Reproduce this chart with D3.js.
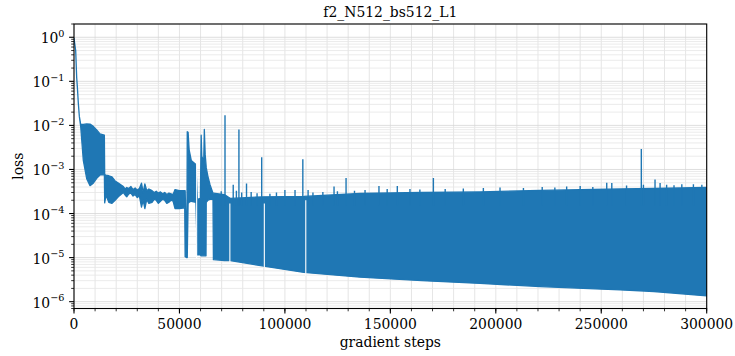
<!DOCTYPE html>
<html><head><meta charset="utf-8">
<script src="https://cdn.jsdelivr.net/npm/d3@7"></script>
<style>
body{margin:0;background:#fff;}
svg{display:block;}
text{font-family:"DejaVu Serif",serif;fill:#000;}
</style></head><body>
<svg id="c" width="735" height="356"></svg>
<script>
const title = "f2_N512_bs512_L1";
const xLabel = "gradient steps";
const yLabel = "loss";
const xTicks = [0, 50000, 100000, 150000, 200000, 250000, 300000];
const yTickExps = [0, -1, -2, -3, -4, -5, -6];

// envelope of the oscillating loss curve (upper / lower edge)
const bandStep = [0, 800, 1280, 1580, 2050, 2530, 3180, 4410, 6020, 7590, 9150, 10760, 12330, 14400, 14550, 15200, 16500, 18000, 19500, 21000, 23400, 24300, 25000, 26000, 27000, 28000, 29000, 30000, 31000, 32000, 32800, 33600, 34500, 35500, 37000, 38000, 39000, 40000, 41000, 42000, 43000, 44000, 45000, 46000, 47000, 47900, 50000, 52500, 52700, 53500, 53700, 54100, 54600, 55600, 57800, 58500, 59900, 60300, 60600, 61500, 61800, 62200, 62600, 62700, 63500, 64500, 65900, 66100, 71300, 74200, 90000, 109000, 135600, 165000, 192500, 221000, 259000, 275000, 300000];
const bandHigh = [0.95, 0.50, 0.12, 0.076, 0.032, 0.016, 0.0105, 0.0105, 0.0108, 0.0107, 0.0095, 0.0079, 0.0064, 0.0060, 0.00076, 0.00074, 0.00072, 0.00068, 0.00055, 0.00049, 0.00041, 0.00036, 0.00039, 0.00037, 0.00041, 0.00035, 0.00038, 0.00034, 0.00037, 0.00049, 0.00030, 0.00047, 0.00033, 0.00036, 0.00033, 0.00030, 0.00032, 0.00029, 0.00031, 0.00028, 0.00030, 0.00027, 0.00029, 0.00028, 0.00027, 0.00035, 0.00033, 0.00033, 0.00033, 0.000011, 0.0072, 0.0070, 0.0028, 0.0016, 0.0013, 0.00021, 0.00022, 0.0060, 0.0020, 0.0015, 0.0081, 0.0022, 0.0013, 0.0011, 0.00070, 0.00045, 0.00029, 0.00029, 0.00027, 0.00022, 0.00024, 0.000245, 0.000285, 0.00030, 0.00031, 0.000335, 0.00036, 0.00037, 0.00039];
const bandLow = [0.95, 0.50, 0.12, 0.076, 0.032, 0.016, 0.0094, 0.0016, 0.00062, 0.00043, 0.00049, 0.00063, 0.00075, 0.00076, 0.000175, 0.00026, 0.00018, 0.00017, 0.00020, 0.00024, 0.00030, 0.00026, 0.00024, 0.00028, 0.00029, 0.00025, 0.00027, 0.00023, 0.00025, 0.00014, 0.00020, 0.00013, 0.00021, 0.00017, 0.00018, 0.00021, 0.00020, 0.00017, 0.00019, 0.00021, 0.00020, 0.00017, 0.00018, 0.00020, 0.00019, 0.00013, 0.00013, 0.000135, 0.0000105, 0.0000100, 0.0000100, 0.00017, 0.00018, 0.00019, 0.00018, 0.0000115, 0.0000115, 0.000011, 0.000011, 0.000011, 0.000011, 0.000011, 0.000011, 0.00018, 0.00020, 0.00021, 0.00021, 0.0000090, 0.0000086, 0.0000085, 0.0000064, 0.0000046, 0.0000036, 0.0000030, 0.0000026, 0.0000022, 0.00000185, 0.0000017, 0.00000135];

// isolated upward spikes
const spikeStep = [71600, 78200, 89000, 108500, 170400, 269000, 69800, 75500, 77000, 79500, 81800, 84000, 86800, 92900, 96000, 100000, 104800, 111000, 113300, 118000, 123300, 124900, 129000, 133000, 138000, 144600, 148500, 153300, 159300, 164000, 176000, 184600, 194100, 202000, 213100, 222000, 228000, 233600, 240000, 246000, 252600, 255000, 262000, 270000, 275500, 277900, 281000, 284500, 288200, 293700, 297700];
const spikePeak = [0.017, 0.0081, 0.0019, 0.0017, 0.00064, 0.0029, 0.00032, 0.00045, 0.00033, 0.00030, 0.00048, 0.00031, 0.00029, 0.00028, 0.00030, 0.00034, 0.00034, 0.00034, 0.00030, 0.00031, 0.00041, 0.00032, 0.00064, 0.00033, 0.00034, 0.00042, 0.00036, 0.00042, 0.00036, 0.00035, 0.00036, 0.00037, 0.00038, 0.00039, 0.00038, 0.00040, 0.00039, 0.00041, 0.00042, 0.00040, 0.00050, 0.00049, 0.00043, 0.00045, 0.00059, 0.00049, 0.00045, 0.00044, 0.00046, 0.00046, 0.00045];

// short breaks in the curve
const gapStep = [58150, 73900, 90250, 109900];
const gapTop = [0.0016, 0.00017, 0.00017, 0.00020];
const gapBottom = [0.0000095, 0.0000080, 0.0000060, 0.0000039];

const W = 735, H = 356;
const m = {l: 74, r: 735 - 706.7, t: 24, b: 356 - 308.5};
const pw = W - m.l - m.r, ph = H - m.t - m.b;
const blue = "#1f77b4";

const svg = d3.select("#c");
const g = svg.append("g").attr("transform", `translate(${m.l},${m.t})`);

const x = d3.scaleLinear().domain([0, 300000]).range([0, pw]);
const y = d3.scaleLog().domain([7.0e-7, 2.0]).range([ph, 0]);

// grid
const xMinor = d3.range(0, 300001, 10000);
const yMinor = [];
for (let k = -7; k <= 0; k++) for (let j = 2; j <= 9; j++) {
  const v = j * Math.pow(10, k);
  if (v >= y.domain()[0] && v <= y.domain()[1]) yMinor.push(v);
}
const yMajor = yTickExps.map(e => Math.pow(10, e));

const grid = g.append("g");
grid.selectAll(".vx").data(xMinor).join("line")
  .attr("x1", d => x(d)).attr("x2", d => x(d)).attr("y1", 0).attr("y2", ph)
  .attr("stroke", "#dedede").attr("stroke-width", 0.8);
grid.selectAll(".hy").data(yMinor).join("line")
  .attr("x1", 0).attr("x2", pw).attr("y1", d => y(d)).attr("y2", d => y(d))
  .attr("stroke", "#e6e6e6").attr("stroke-width", 0.8);
grid.selectAll(".hY").data(yMajor).join("line")
  .attr("x1", 0).attr("x2", pw).attr("y1", d => y(d)).attr("y2", d => y(d))
  .attr("stroke", "#d6d6d6").attr("stroke-width", 0.8);

// clip
svg.append("defs").append("clipPath").attr("id", "clip")
  .append("rect").attr("width", pw).attr("height", ph);
const plot = g.append("g").attr("clip-path", "url(#clip)");

const band = bandStep.map((s, i) => ({s, hi: bandHigh[i], lo: bandLow[i]}));
const area = d3.area().x(d => x(d.s)).y0(d => y(d.lo)).y1(d => y(d.hi));
plot.append("path").datum(band).attr("d", area)
  .attr("fill", blue).attr("stroke", blue).attr("stroke-width", 1.3).attr("stroke-linejoin", "round");

const spikes = spikeStep.map((s, i) => ({s, p: spikePeak[i]}));
plot.selectAll(".sp").data(spikes).join("line")
  .attr("x1", d => x(d.s)).attr("x2", d => x(d.s))
  .attr("y1", d => y(d.p)).attr("y2", y(1.5e-4))
  .attr("stroke", blue).attr("stroke-width", 1.4);

const gaps = gapStep.map((s, i) => ({s, t: gapTop[i], b: gapBottom[i]}));
plot.selectAll(".gp").data(gaps).join("line")
  .attr("x1", d => x(d.s)).attr("x2", d => x(d.s))
  .attr("y1", d => y(d.t)).attr("y2", d => y(d.b))
  .attr("stroke", "#ffffff").attr("stroke-width", 1.1);

// spines
g.append("rect").attr("width", pw).attr("height", ph)
  .attr("fill", "none").attr("stroke", "#000").attr("stroke-width", 1.1);

// x axis ticks
const xa = g.append("g").attr("transform", `translate(0,${ph})`);
xa.selectAll(".mt").data(xMinor).join("line")
  .attr("x1", d => x(d)).attr("x2", d => x(d)).attr("y1", 0).attr("y2", 2.8)
  .attr("stroke", "#000").attr("stroke-width", 0.8);
xa.selectAll(".Mt").data(xTicks).join("line")
  .attr("x1", d => x(d)).attr("x2", d => x(d)).attr("y1", 0).attr("y2", 4.9)
  .attr("stroke", "#000").attr("stroke-width", 1.1);
xa.selectAll(".xl").data(xTicks).join("text")
  .attr("x", d => x(d)).attr("y", 20).attr("text-anchor", "middle")
  .attr("font-size", 13.9).text(d => d3.format("d")(d));

// y axis ticks
const ya = g.append("g");
ya.selectAll(".mt").data(yMinor).join("line")
  .attr("x1", 0).attr("x2", -2.8).attr("y1", d => y(d)).attr("y2", d => y(d))
  .attr("stroke", "#000").attr("stroke-width", 0.8);
ya.selectAll(".Mt").data(yMajor).join("line")
  .attr("x1", 0).attr("x2", -4.9).attr("y1", d => y(d)).attr("y2", d => y(d))
  .attr("stroke", "#000").attr("stroke-width", 1.1);
const yl = ya.selectAll(".yl").data(yTickExps).join("text")
  .attr("x", -9.5).attr("y", e => y(Math.pow(10, e)) + 6)
  .attr("text-anchor", "end").attr("font-size", 13.9);
yl.append("tspan").text("10");
yl.append("tspan").attr("dy", -6.5).attr("font-size", 9.7)
  .text(e => e === 0 ? "0" : "\u2212" + Math.abs(e));

// labels
svg.append("text").attr("x", m.l + pw / 2).attr("y", 17).attr("text-anchor", "middle")
  .attr("font-size", 13.9).text(title);
svg.append("text").attr("x", m.l + pw / 2).attr("y", 347).attr("text-anchor", "middle")
  .attr("font-size", 13.9).text(xLabel);
svg.append("text").attr("transform", `translate(22.5,${m.t + ph / 2}) rotate(-90)`)
  .attr("text-anchor", "middle").attr("font-size", 13.9).text(yLabel);
</script>
</body></html>
